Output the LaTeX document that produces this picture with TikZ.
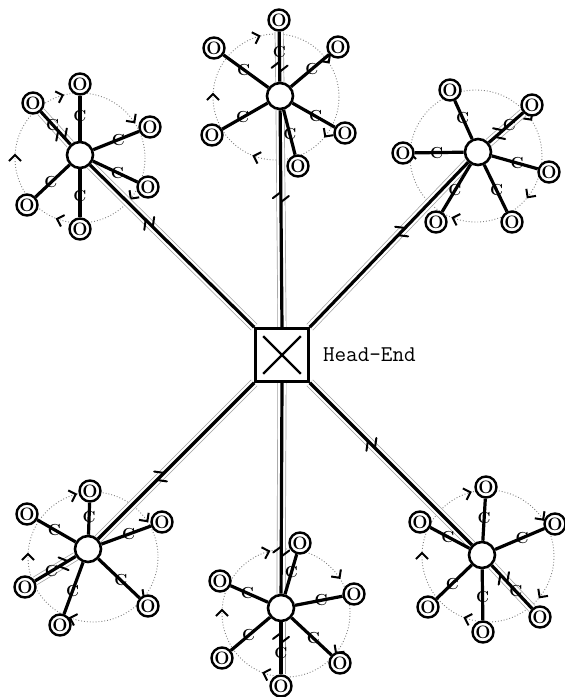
\documentclass[tikz,border=0pt]{standalone}
\usetikzlibrary{decorations.markings,positioning,backgrounds}

\tikzset{
  leaf/.style={circle, draw, line width=2.4pt, fill=white, minimum size=21pt,
    inner sep=0pt, font=\fontsize{18}{18}\selectfont\bfseries},
  hub/.style={circle, draw, line width=2.6pt, fill=white, minimum size=26pt, inner sep=0pt},
  headbox/.style={draw, line width=2.6pt, fill=white, minimum size=53pt, inner sep=0pt},
  spoke/.style={line width=3.2pt},
  trunk/.style={line width=3.2pt,
    preaction={draw=gray!75, line width=9pt},
    preaction={draw=white, line width=7.6pt}},
  clab/.style={font=\fontsize{16}{16}\selectfont\bfseries, inner sep=0pt},
  ring/.style={draw=gray, dotted, line width=0.9pt,
    postaction={decorate, decoration={markings,
      mark=between positions 0.1 and 0.95 step 0.2 with
        {\draw[black, solid, line width=2pt] (-3pt,6pt) -- (3pt,0) -- (-3pt,-6pt);}}}},
  twoway/.style={postaction={decorate, decoration={markings,
      mark=at position #1 with {
        \draw[line width=2pt, line cap=round] (5pt,0) -- (-1pt,8pt);
        \draw[line width=2pt, line cap=round] (-5pt,0) -- (1pt,-8pt);}}}}
}

\begin{document}
\begin{tikzpicture}[x=1pt, y=-1pt]
\useasboundingbox (0,0) rectangle (565,697);

% head-end
\node[headbox] (head) at (282,355) {};
\draw[line width=2.2pt] ([shift={(9,9)}]head.north west) -- ([shift={(-9,-9)}]head.south east);
\draw[line width=2.2pt] ([shift={(-9,9)}]head.north east) -- ([shift={(9,-9)}]head.south west);
\node[right=13pt of head, inner sep=0pt, font=\fontsize{22.5}{22.5}\selectfont\ttfamily] (headlab) {Head-End};

% hubs
\node[hub] (tc) at (280,96) {};
\node[hub] (tl) at (80,155) {};
\node[hub] (tr) at (478,152) {};
\node[hub] (bl) at (88,549) {};
\node[hub] (bc) at (281,608) {};
\node[hub] (br) at (482,555) {};

% subscribers, number 1 sits on the trunk
\node[leaf] (tc1) at (279,20) {O};
\node[leaf] (tc2) at (214,48) {O};
\node[leaf] (tc3) at (338,47) {O};
\node[leaf] (tc4) at (345,133) {O};
\node[leaf] (tc5) at (298,166) {O};
\node[leaf] (tc6) at (212,135) {O};

\node[leaf] (tl1) at (33,103) {O};
\node[leaf] (tl2) at (80,84) {O};
\node[leaf] (tl3) at (150,127) {O};
\node[leaf] (tl4) at (148,187) {O};
\node[leaf] (tl5) at (80,229) {O};
\node[leaf] (tl6) at (27,205) {O};

\node[leaf] (tr1) at (532,105) {O};
\node[leaf] (tr2) at (450,90) {O};
\node[leaf] (tr3) at (403,153) {O};
\node[leaf] (tr4) at (436,222) {O};
\node[leaf] (tr5) at (512,222) {O};
\node[leaf] (tr6) at (549,172) {O};

\node[leaf] (bl1) at (25,587) {O};
\node[leaf] (bl2) at (90,491) {O};
\node[leaf] (bl3) at (162,522) {O};
\node[leaf] (bl4) at (148,606) {O};
\node[leaf] (bl5) at (60,625) {O};
\node[leaf] (bl6) at (27,514) {O};

\node[leaf] (bc1) at (281,686) {O};
\node[leaf] (bc2) at (300,543) {O};
\node[leaf] (bc3) at (354,594) {O};
\node[leaf] (bc4) at (340,663) {O};
\node[leaf] (bc5) at (222,658) {O};
\node[leaf] (bc6) at (220,581) {O};

\node[leaf] (br1) at (540,617) {O};
\node[leaf] (br2) at (486,487) {O};
\node[leaf] (br3) at (555,524) {O};
\node[leaf] (br4) at (483,632) {O};
\node[leaf] (br5) at (428,607) {O};
\node[leaf] (br6) at (420,522) {O};

\begin{scope}[on background layer]
% rings
\draw[ring] (276,97) circle[radius=63];
\draw[ring] (80,158) circle[radius=65];
\draw[ring] (476,156) circle[radius=66];
\draw[ring] (93,557) circle[radius=65];
\draw[ring] (286,613) circle[radius=64];
\draw[ring] (488,556) circle[radius=66];

% trunks
\draw[trunk, twoway=0.6] (head.north) -- (tc);
\draw[trunk, twoway=0.64] (head.north west) -- (tl);
\draw[trunk, twoway=0.58] (head.north east) -- (tr);
\draw[trunk, twoway=0.6] (head.south west) -- (bl);
\draw[trunk, twoway=0.8] (head.south) -- (bc);
\draw[trunk, twoway=0.38] (head.south east) -- (br);
\foreach \h in {tc,tl,tr,bl,bc,br}
  \draw[trunk, twoway=0.3] (\h) -- node[clab, pos=0.6] {C} (\h1);

% drops
\foreach \h in {tc,tl,tr,bl,bc,br}
  \foreach \i in {2,...,6}
    \draw[spoke] (\h) -- node[clab, pos=0.55] {C} (\h\i);
\end{scope}
\end{tikzpicture}
\end{document}
